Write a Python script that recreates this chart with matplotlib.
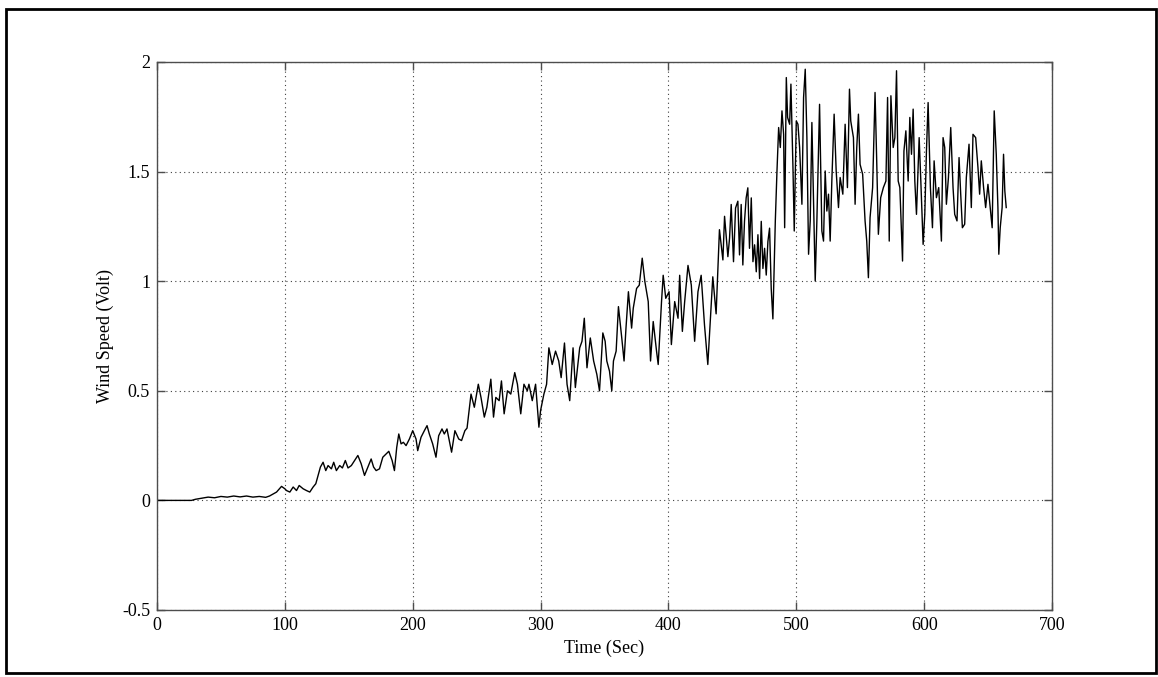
import matplotlib.pyplot as plt
from matplotlib.patches import Rectangle

# anemometer output over the run, split into stretches (seconds, volts)
t_calm = [0, 10, 20, 27, 30, 35, 40, 45, 50, 55, 60, 65, 70, 75, 80, 85, 88]
v_calm = [0, 0, 0, 0, 0.005, 0.01, 0.015, 0.012, 0.018, 0.015, 0.02, 0.016, 0.02,
          0.015, 0.018, 0.014, 0.02]

t_low = [93.5, 97.4, 100, 101.3, 103.9, 106.5, 109.1, 111.2, 114.3, 116.9,
         119.5, 122.1, 124.2, 126, 127.8, 129.9, 132, 133.8, 136.4, 138.2,
         140.3, 142.9, 145, 147.3, 149.4, 152, 154.5, 157.1, 159.7, 162.3,
         164.9, 167.5, 169.4, 171.4, 174, 176.6, 179.2, 181.3, 183.9, 185.7,
         187.5, 189.1, 190.9, 192.7, 194.8, 197.4, 200, 202.6, 203.9, 206.5,
         209.1, 211.2, 213, 215.6, 218.2, 220.3, 222.9, 224.7, 226.8, 230.4,
         233, 236, 238.2, 240.8, 242.5]
v_low = [0.038, 0.064, 0.053, 0.045, 0.038, 0.061, 0.045, 0.068, 0.053, 0.045,
         0.038, 0.061, 0.076, 0.114, 0.152, 0.174, 0.136, 0.159, 0.144, 0.174,
         0.136, 0.159, 0.148, 0.182, 0.148, 0.159, 0.182, 0.205, 0.167, 0.114,
         0.152, 0.189, 0.152, 0.136, 0.144, 0.197, 0.212, 0.224, 0.182, 0.136,
         0.242, 0.303, 0.258, 0.265, 0.250, 0.280, 0.318, 0.280, 0.227, 0.288,
         0.318, 0.341, 0.303, 0.258, 0.197, 0.295, 0.326, 0.303, 0.326, 0.220,
         0.318, 0.28, 0.273, 0.318, 0.33]

t_mid = [245.6, 248.2, 251.3, 253.4, 256, 258, 261.1, 263.2, 265, 267.6,
         269.4, 271.5, 274.1, 276.7, 279.8, 281.9, 284.5, 287, 289.6, 290.9,
         293.5, 296.1, 298.7, 300, 302.6, 304.7, 306.5, 309.1, 311.7, 314.2,
         316.1, 318.7, 320.7, 322.8, 325.4, 327.2, 330.6, 332.4, 334.2, 336.3,
         338.9, 341.5, 344, 346.1, 348.7, 350.5, 351.8, 353.9, 355.7, 357,
         359.1, 360.9, 363.5, 365.3, 366.8, 368.7, 371.2, 372.5, 375.1, 377.2,
         379.5, 381.6, 384.2, 386, 388.1, 390.7, 392, 394.6, 395.9, 397.9,
         400.5, 402.3, 404.9, 407.5, 408.8, 410.9, 412.7, 415.3, 417.9, 420.5,
         423.1, 425.6, 428.2, 430.8]
v_mid = [0.485, 0.425, 0.530, 0.470, 0.380, 0.425, 0.553, 0.380, 0.470, 0.455,
         0.545, 0.395, 0.500, 0.485, 0.583, 0.530, 0.395, 0.530, 0.500, 0.530,
         0.455, 0.530, 0.334, 0.410, 0.485, 0.530, 0.696, 0.620, 0.681, 0.636,
         0.560, 0.718, 0.530, 0.455, 0.696, 0.515, 0.696, 0.726, 0.831, 0.605,
         0.741, 0.636, 0.575, 0.500, 0.764, 0.726, 0.636, 0.590, 0.500, 0.636,
         0.681, 0.884, 0.741, 0.636, 0.786, 0.952, 0.786, 0.877, 0.967, 0.982,
         1.105, 0.997, 0.907, 0.636, 0.816, 0.681, 0.620, 0.907, 1.027, 0.922,
         0.952, 0.711, 0.907, 0.831, 1.027, 0.771, 0.907, 1.072, 0.982, 0.726,
         0.952, 1.027, 0.801, 0.620]

t_upper = [434.7, 437.3, 439.9, 442.6, 443.9, 446.5, 447.8, 449.1, 450.9, 452.5,
           454.3, 455.6, 456.9, 458.2, 459.5, 460.8, 462.1, 463.4, 464.8, 466.1,
           467.4, 468.7, 470, 471.3, 472.6, 473.9, 475.2, 476.5, 477.8, 479.1,
           480.4, 481.7]
v_upper = [1.020, 0.851, 1.235, 1.097, 1.296, 1.112, 1.196, 1.350, 1.089, 1.334,
           1.365, 1.120, 1.350, 1.074, 1.273, 1.380, 1.426, 1.150, 1.380, 1.089,
           1.166, 1.043, 1.212, 1.012, 1.273, 1.058, 1.150, 1.028, 1.181, 1.242,
           0.966, 0.828]

t_high = [483.6, 484.9, 486.2, 487.5, 488.8, 490.1, 490.9, 492.2, 493.2, 494.8,
          495.8, 497.4, 498.4, 500, 501.3, 502.6, 504.4, 505.7, 507, 508.3,
          509.6, 510.9, 512.2, 513.5, 514.8, 516.1, 518.2, 520, 521.3, 522.6,
          523.9, 525.2, 526.5, 527.8, 529.6, 531.2, 533, 534.3, 536.4, 538.2,
          540, 541.6, 542.6, 544.7, 546, 547.3, 548.6, 549.9, 551.9, 553.8,
          555.1, 556.4, 557.7, 559.7, 561.6, 562.9, 564.2, 566, 568.1, 570.1,
          571.4, 572.7, 574, 575.8, 577.1, 578.4, 579.7, 581, 583.1, 584.2,
          585.7, 587.5, 588.8, 590.1, 591.4, 592.7, 594, 596.1, 597.4, 599.2,
          600.5, 601.8, 603.1, 604.9, 606.5, 607.8, 609.6, 611.4, 613.5, 614.8,
          616.1, 617.4, 619, 620.8, 622.6, 623.9, 625.7, 627.3, 628.6, 629.9,
          631.7, 633, 635.1, 636.9, 638.2, 640.3, 642.1, 643.4, 644.7, 646.5,
          648.1, 649.9, 651.7, 653.2, 654.8, 656.4, 657.7, 658.4, 659.5, 661,
          662.1, 663.1, 664.2]
v_high = [1.275, 1.503, 1.701, 1.610, 1.777, 1.670, 1.244, 1.929, 1.747, 1.716,
          1.899, 1.518, 1.229, 1.731, 1.716, 1.610, 1.351, 1.838, 1.967, 1.655,
          1.123, 1.275, 1.724, 1.366, 1.001, 1.275, 1.807, 1.229, 1.183, 1.503,
          1.320, 1.397, 1.183, 1.457, 1.762, 1.503, 1.336, 1.473, 1.397, 1.716,
          1.427, 1.876, 1.731, 1.655, 1.351, 1.610, 1.762, 1.533, 1.488, 1.275,
          1.183, 1.016, 1.290, 1.427, 1.861, 1.549, 1.214, 1.381, 1.427, 1.457,
          1.838, 1.183, 1.846, 1.610, 1.655, 1.960, 1.457, 1.427, 1.092, 1.594,
          1.686, 1.457, 1.747, 1.579, 1.785, 1.457, 1.305, 1.655, 1.457, 1.168,
          1.305, 1.594, 1.815, 1.427, 1.244, 1.549, 1.381, 1.427, 1.183, 1.655,
          1.610, 1.351, 1.473, 1.701, 1.427, 1.305, 1.275, 1.564, 1.397, 1.244,
          1.260, 1.473, 1.625, 1.336, 1.670, 1.655, 1.518, 1.397, 1.549, 1.427,
          1.336, 1.442, 1.336, 1.244, 1.777, 1.579, 1.336, 1.123, 1.244, 1.336,
          1.579, 1.412, 1.336]

x_ticks = [0, 100, 200, 300, 400, 500, 600, 700]
y_ticks = [-0.5, 0, 0.5, 1, 1.5, 2]
y_tick_labels = ["-0.5", "0", "0.5", "1", "1.5", "2"]

time_s = t_calm + t_low + t_mid + t_upper + t_high
wind_volt = v_calm + v_low + v_mid + v_upper + v_high

plt.rcParams["font.family"] = ["Liberation Serif", "DejaVu Serif"]

fig = plt.figure(figsize=(11.58, 6.77), dpi=100)
ax = fig.add_axes([157 / 1158, 1 - 610 / 677, (1052 - 157) / 1158, (610 - 62) / 677])

ax.plot(time_s, wind_volt, color="black", linewidth=1.0)

ax.set_xlim(0, 700)
ax.set_ylim(-0.5, 2)
ax.set_xticks(x_ticks)
ax.set_yticks(y_ticks)
ax.set_yticklabels(y_tick_labels)
ax.tick_params(direction="in", length=6, width=1, color="0.3", labelsize=13, pad=5,
               top=True, right=True)
ax.grid(True, color="0.25", linestyle=(0, (1, 3)), linewidth=0.8)
for sp in ax.spines.values():
    sp.set_color("0.3")
    sp.set_linewidth(1.0)

ax.set_xlabel("Time (Sec)", fontsize=13, labelpad=4)
ax.set_ylabel("Wind Speed (Volt)", fontsize=13, labelpad=6)

# frame around the whole figure
fig.patches.append(Rectangle((6 / 1158, 4 / 677), 1150 / 1158, 664 / 677,
                             transform=fig.transFigure, fill=False,
                             edgecolor="black", linewidth=2))

fig.savefig("out.png", dpi=100)
